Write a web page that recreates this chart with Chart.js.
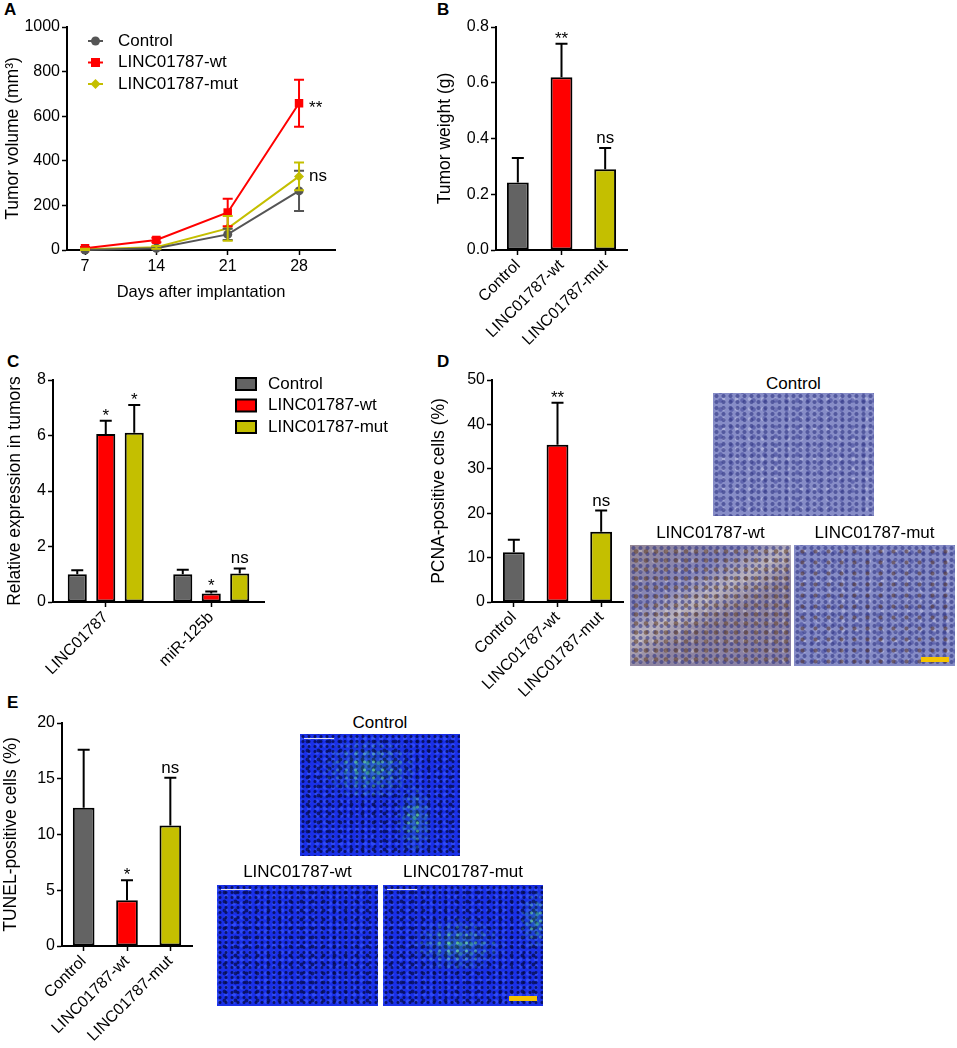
<!DOCTYPE html>
<html>
<head>
<meta charset="utf-8">
<script src="https://cdn.jsdelivr.net/npm/chart.js@4.4.1/dist/chart.umd.min.js"></script>
<style>
  body { margin: 0; background: #fff; font-family: "Liberation Sans", Arial, sans-serif; }
  #fig { position: relative; width: 957px; height: 1048px; overflow: hidden; }
  canvas, .lbl, .pic, .ptitle, .sbar, .glow { position: absolute; }
  .lbl { font-weight: bold; font-size: 17px; line-height: 17px; }
  .ptitle { font-size: 17px; text-align: center; line-height: 20px; }
  .sbar { background: #f5c400; height: 5px; width: 28px; }
  .pic { overflow: hidden; }
  .ihc {
    background:
      radial-gradient(circle, rgba(40,45,125,.55) 0 1.5px, rgba(0,0,0,0) 2.5px) 0 0/7px 6px,
      radial-gradient(circle, rgba(60,65,150,.5) 0 1.8px, rgba(0,0,0,0) 2.8px) 2px 3px/11px 9px,
      radial-gradient(circle, rgba(235,235,250,.35) 0 1.2px, rgba(0,0,0,0) 2.2px) 4px 1px/13px 10px,
      #878dc7;
  }
  .ihc.brown {
    background:
      radial-gradient(circle, rgba(105,70,45,.6) 0 1.8px, rgba(0,0,0,0) 2.8px) 1px 2px/10px 9px,
      radial-gradient(circle, rgba(40,45,125,.55) 0 1.5px, rgba(0,0,0,0) 2.5px) 0 0/7px 6px,
      radial-gradient(circle, rgba(235,230,230,.35) 0 1.2px, rgba(0,0,0,0) 2.2px) 4px 1px/13px 10px,
      linear-gradient(150deg, rgba(170,135,95,.45), rgba(130,115,150,.15) 30%, rgba(225,210,185,.55) 45%, rgba(160,125,100,.35) 60%, rgba(140,110,120,.3)),
      #8588bf;
  }
  .ihc.dots {
    background:
      radial-gradient(circle, rgba(90,55,40,.55) 0 1.5px, rgba(0,0,0,0) 2.5px) 2px 1px/13px 11px,
      radial-gradient(circle, rgba(40,45,125,.55) 0 1.5px, rgba(0,0,0,0) 2.5px) 0 0/7px 6px,
      radial-gradient(circle, rgba(60,65,150,.5) 0 1.8px, rgba(0,0,0,0) 2.8px) 2px 3px/11px 9px,
      radial-gradient(circle, rgba(235,235,250,.35) 0 1.2px, rgba(0,0,0,0) 2.2px) 4px 1px/13px 10px,
      #868cc6;
  }
  .if {
    background:
      radial-gradient(circle, rgba(3,8,70,.8) 0 1px, rgba(0,0,0,0) 2px) 0 0/6px 5px,
      radial-gradient(circle, rgba(3,8,70,.7) 0 1.4px, rgba(0,0,0,0) 2.4px) 2px 3px/11px 9px,
      radial-gradient(circle, rgba(60,90,255,.6) 0 1.6px, rgba(0,0,0,0) 2.6px) 5px 1px/8px 7px,
      #1a30e8;
  }
  .if::before { content: ""; position: absolute; left: 4px; top: 4px; width: 30px; height: 1px; background: #dde; }
  .glow {
    background:
      radial-gradient(circle, rgba(130,255,160,.6) 0 1px, rgba(0,0,0,0) 2px) 0 0/9px 8px,
      radial-gradient(circle, rgba(70,210,120,.45) 0 1.4px, rgba(0,0,0,0) 2.4px) 3px 4px/11px 10px,
      radial-gradient(closest-side, rgba(60,170,110,.35), rgba(0,0,0,0));
    -webkit-mask-image: radial-gradient(closest-side, #000 15%, rgba(0,0,0,0) 100%);
    mask-image: radial-gradient(closest-side, #000 15%, rgba(0,0,0,0) 100%);
  }
</style>
</head>
<body>
<div id="fig">
  <div class="lbl" style="left:4px;top:1px">A</div>
  <div class="lbl" style="left:437px;top:1px">B</div>
  <div class="lbl" style="left:7px;top:353px">C</div>
  <div class="lbl" style="left:437px;top:353px">D</div>
  <div class="lbl" style="left:7px;top:694px">E</div>

  <canvas id="grafikA" width="342" height="302" style="left:3px;top:0"></canvas>
  <canvas id="grafikB" width="205" height="355" style="left:435px;top:0"></canvas>
  <canvas id="grafikC" width="385" height="340" style="left:5px;top:360px"></canvas>
  <canvas id="grafikD" width="211" height="345" style="left:429px;top:360px"></canvas>
  <canvas id="grafikE" width="204" height="348" style="left:1px;top:700px"></canvas>

  <!-- PCNA staining -->
  <div class="ptitle" style="left:693px;top:374px;width:201px">Control</div>
  <div class="pic ihc" style="left:713px;top:393px;width:161px;height:123px"></div>
  <div class="ptitle" style="left:610px;top:523px;width:201px">LINC01787-wt</div>
  <div class="pic ihc brown" style="left:630px;top:545px;width:161px;height:121px"></div>
  <div class="ptitle" style="left:774px;top:523px;width:201px">LINC01787-mut</div>
  <div class="pic ihc dots" style="left:794px;top:545px;width:161px;height:121px"></div>
  <div class="sbar" style="left:921px;top:657px"></div>

  <!-- TUNEL staining -->
  <div class="ptitle" style="left:280px;top:713px;width:200px">Control</div>
  <div class="pic if" style="left:300px;top:734px;width:160px;height:122px">
    <div class="glow" style="left:15px;top:0;width:110px;height:70px"></div>
    <div class="glow" style="left:95px;top:45px;width:40px;height:80px"></div>
  </div>
  <div class="ptitle" style="left:197px;top:862px;width:201px">LINC01787-wt</div>
  <div class="pic if" style="left:217px;top:885px;width:161px;height:121px"></div>
  <div class="ptitle" style="left:363px;top:862px;width:200px">LINC01787-mut</div>
  <div class="pic if" style="left:383px;top:885px;width:160px;height:121px">
    <div class="glow" style="left:25px;top:30px;width:100px;height:60px"></div>
    <div class="glow" style="left:135px;top:0;width:35px;height:70px"></div>
  </div>
  <div class="sbar" style="left:509px;top:996px"></div>
</div>

<script>
// ---- data ----
const groupNames = ['Control', 'LINC01787-wt', 'LINC01787-mut'];

// A: tumor volume over time
const days = [7, 14, 21, 28];
const volControl = [0, 8, 70, 265];
const volControlSd = [3, 5, 25, 90];
const volWt = [8, 45, 168, 658];
const volWtSd = [5, 10, 62, 105];
const volMut = [3, 12, 97, 330];
const volMutSd = [3, 6, 55, 62];
const volSig = ['', '**', 'ns'];

// B: tumor weight
const weight = [0.242, 0.62, 0.29];
const weightSd = [0.088, 0.12, 0.076];
const weightSig = ['', '**', 'ns'];

// C: relative expression
const genes = ['LINC01787', 'miR-125b'];
const exprControl = [1.0, 1.0];
const exprControlSd = [0.14, 0.16];
const exprWt = [6.05, 0.31];
const exprWtSd = [0.48, 0.07];
const exprMut = [6.1, 1.03];
const exprMutSd = [1.0, 0.18];
const exprSig = [['', ''], ['*', '*'], ['*', 'ns']];

// D: PCNA-positive cells
const pcna = [11.2, 35.4, 15.8];
const pcnaSd = [2.8, 9.5, 4.8];
const pcnaSig = ['', '**', 'ns'];

// E: TUNEL-positive cells
const tunel = [12.4, 4.1, 10.8];
const tunelSd = [5.2, 1.8, 4.3];
const tunelSig = ['', '*', 'ns'];

const GREY = '#636363', RED = '#ff0000', OLIVE = '#c4bf00';
const FONT = '"Liberation Sans", Arial, sans-serif';

Chart.defaults.font.family = FONT;
Chart.defaults.font.size = 16;
Chart.defaults.color = '#000';

// error bars + significance marks
const errorBars = {
    id: 'errorBars',
    afterDatasetsDraw(chart, args, opts) {
        const ctx = chart.ctx;
        const yScale = chart.scales.y;
        chart.data.datasets.forEach((ds, i) => {
            const meta = chart.getDatasetMeta(i);
            meta.data.forEach((el, j) => {
                const raw = ds.data[j];
                const val = typeof raw === 'object' ? raw.y : raw;
                const sd = ds.sd[j];
                const top = yScale.getPixelForValue(val + sd);
                const bottom = opts.twoSided ? yScale.getPixelForValue(Math.max(val - sd, 0)) : el.y;
                ctx.save();
                ctx.strokeStyle = opts.twoSided ? ds.borderColor : '#000';
                ctx.lineWidth = 2;
                ctx.beginPath();
                ctx.moveTo(el.x, bottom);
                ctx.lineTo(el.x, top);
                ctx.moveTo(el.x - opts.cap, top);
                ctx.lineTo(el.x + opts.cap, top);
                if (opts.twoSided) {
                    ctx.moveTo(el.x - opts.cap, bottom);
                    ctx.lineTo(el.x + opts.cap, bottom);
                }
                ctx.stroke();
                const s = ds.sig ? ds.sig[j] : '';
                if (s) {
                    ctx.fillStyle = '#000';
                    ctx.font = '17px ' + FONT;
                    if (opts.twoSided) {
                        ctx.textAlign = 'left';
                        ctx.fillText(s, el.x + 10, el.y + (s === 'ns' ? 5 : 10));
                    } else {
                        ctx.textAlign = 'center';
                        ctx.fillText(s, el.x, top - (s === 'ns' ? 5 : 0));
                    }
                }
                ctx.restore();
            });
        });
    }
};

function drawMarker(ctx, style, x, y, r) {
    ctx.beginPath();
    if (style === 'rect') {
        ctx.rect(x - r, y - r, 2 * r, 2 * r);
    } else if (style === 'rectRot') {
        ctx.moveTo(x, y - r); ctx.lineTo(x + r, y); ctx.lineTo(x, y + r); ctx.lineTo(x - r, y);
        ctx.closePath();
    } else {
        ctx.arc(x, y, r, 0, Math.PI * 2);
    }
    ctx.fill();
}

// legend drawn next to the plot like in the figure
const sideLegend = {
    id: 'sideLegend',
    afterDraw(chart, args, opts) {
        const ctx = chart.ctx;
        ctx.save();
        ctx.font = '17px ' + FONT;
        ctx.textBaseline = 'middle';
        ctx.textAlign = 'left';
        chart.data.datasets.forEach((ds, i) => {
            const y = opts.y + i * opts.step;
            if (opts.kind === 'line') {
                ctx.strokeStyle = ds.borderColor;
                ctx.lineWidth = 2;
                ctx.beginPath();
                ctx.moveTo(opts.x, y);
                ctx.lineTo(opts.x + 15, y);
                ctx.stroke();
                ctx.fillStyle = ds.borderColor;
                drawMarker(ctx, ds.pointStyle, opts.x + 7.5, y, ds.pointStyle === 'rectRot' ? 5 : 4.5);
            } else {
                ctx.fillStyle = ds.backgroundColor;
                ctx.fillRect(opts.x, y - 6, 20, 12);
                ctx.strokeStyle = '#000';
                ctx.lineWidth = 2;
                ctx.strokeRect(opts.x, y - 6, 20, 12);
            }
            ctx.fillStyle = '#000';
            ctx.fillText(ds.label, opts.textX, y);
        });
        ctx.restore();
    }
};

function axisStyle() {
    return {
        grid: { drawOnChartArea: false, drawTicks: true, tickLength: 5, tickWidth: 1.5, tickColor: '#000', offset: false },
        border: { display: true, color: '#000', width: 2 }
    };
}

function yAxis(width, max, step, title, fmt) {
    return Object.assign(axisStyle(), {
        min: 0, max: max,
        afterFit: s => { s.width = width; },
        ticks: { stepSize: step, padding: 2, callback: v => fmt ? v.toFixed(fmt) : v },
        title: { display: true, text: title, font: { size: 17.5 }, padding: 0 }
    });
}

function xCategory(height) {
    return Object.assign(axisStyle(), {
        afterFit: s => { s.height = height; },
        ticks: { minRotation: 45, maxRotation: 45, padding: 1, autoSkip: false }
    });
}

///////////////// GRAFİK A /////////////////
new Chart(document.getElementById('grafikA').getContext('2d'), {
    type: 'line',
    data: {
        datasets: [
            { label: groupNames[0], data: days.map((d, i) => ({ x: d, y: volControl[i] })), sd: volControlSd,
              sig: ['', '', '', volSig[0]], borderColor: '#555555', backgroundColor: '#555555', pointStyle: 'circle', pointRadius: 4.5 },
            { label: groupNames[1], data: days.map((d, i) => ({ x: d, y: volWt[i] })), sd: volWtSd,
              sig: ['', '', '', volSig[1]], borderColor: RED, backgroundColor: RED, pointStyle: 'rect', pointRadius: 6 },
            { label: groupNames[2], data: days.map((d, i) => ({ x: d, y: volMut[i] })), sd: volMutSd,
              sig: ['', '', '', volSig[2]], borderColor: OLIVE, backgroundColor: OLIVE, pointStyle: 'rectRot', pointRadius: 5 }
        ].map(ds => Object.assign(ds, { borderWidth: 2, pointBorderWidth: 0, clip: false }))
    },
    options: {
        responsive: false,
        animation: false,
        layout: { padding: { top: 27, right: 10, left: 0, bottom: 0 } },
        plugins: {
            legend: { display: false },
            tooltip: { enabled: false },
            errorBars: { twoSided: true, cap: 5 },
            sideLegend: { kind: 'line', x: 85, y: 41, step: 21.5, textX: 115 }
        },
        scales: {
            x: Object.assign(axisStyle(), {
                type: 'linear', min: 5.23, max: 31.53,
                afterFit: s => { s.height = 52; },
                afterBuildTicks: s => { s.ticks = days.map(v => ({ value: v })); },
                ticks: { padding: 2 },
                title: { display: true, text: 'Days after implantation', font: { size: 16.5 }, padding: 0 }
            }),
            y: yAxis(64, 1000, 200, 'Tumor volume (mm³)')
        }
    },
    plugins: [errorBars, sideLegend]
});

///////////////// GRAFİK B / D / E /////////////////
function groupBar(id, values, sds, sigs, opts) {
    new Chart(document.getElementById(id).getContext('2d'), {
        type: 'bar',
        data: {
            labels: groupNames,
            datasets: [{
                data: values, sd: sds, sig: sigs,
                backgroundColor: [GREY, RED, OLIVE],
                borderColor: '#000', borderWidth: 2, borderSkipped: false,
                barPercentage: 0.5, categoryPercentage: 1
            }]
        },
        options: {
            responsive: false,
            animation: false,
            layout: { padding: { top: opts.top, right: opts.right, left: 0, bottom: 0 } },
            plugins: {
                legend: { display: false },
                tooltip: { enabled: false },
                errorBars: { twoSided: false, cap: 6 }
            },
            scales: {
                x: xCategory(opts.xh),
                y: yAxis(opts.yw, opts.max, opts.step, opts.title, opts.fmt)
            }
        },
        plugins: [errorBars]
    });
}

groupBar('grafikB', weight, weightSd, weightSig,
    { top: 27, right: 13, xh: 105, yw: 61, max: 0.8, step: 0.2, title: 'Tumor weight (g)', fmt: 1 });
groupBar('grafikD', pcna, pcnaSd, pcnaSig,
    { top: 20, right: 17, xh: 103, yw: 63, max: 50, step: 10, title: 'PCNA-positive cells (%)' });
groupBar('grafikE', tunel, tunelSd, tunelSig,
    { top: 23, right: 13, xh: 102, yw: 61, max: 20, step: 5, title: 'TUNEL-positive cells (%)' });

///////////////// GRAFİK C /////////////////
new Chart(document.getElementById('grafikC').getContext('2d'), {
    type: 'bar',
    data: {
        labels: genes,
        datasets: [
            { label: groupNames[0], data: exprControl, sd: exprControlSd, sig: exprSig[0], backgroundColor: GREY },
            { label: groupNames[1], data: exprWt, sd: exprWtSd, sig: exprSig[1], backgroundColor: RED },
            { label: groupNames[2], data: exprMut, sd: exprMutSd, sig: exprSig[2], backgroundColor: OLIVE }
        ].map(ds => Object.assign(ds, { borderColor: '#000', borderWidth: 2, borderSkipped: false,
            barPercentage: 0.67, categoryPercentage: 0.81 }))
    },
    options: {
        responsive: false,
        animation: false,
        layout: { padding: { top: 20, right: 126, left: 0, bottom: 0 } },
        plugins: {
            legend: { display: false },
            tooltip: { enabled: false },
            errorBars: { twoSided: false, cap: 6 },
            sideLegend: { kind: 'box', x: 231, y: 24, step: 21.5, textX: 263 }
        },
        scales: {
            x: xCategory(98),
            y: yAxis(48, 8, 2, 'Relative expression in tumors')
        }
    },
    plugins: [errorBars, sideLegend]
});
</script>
</body>
</html>
